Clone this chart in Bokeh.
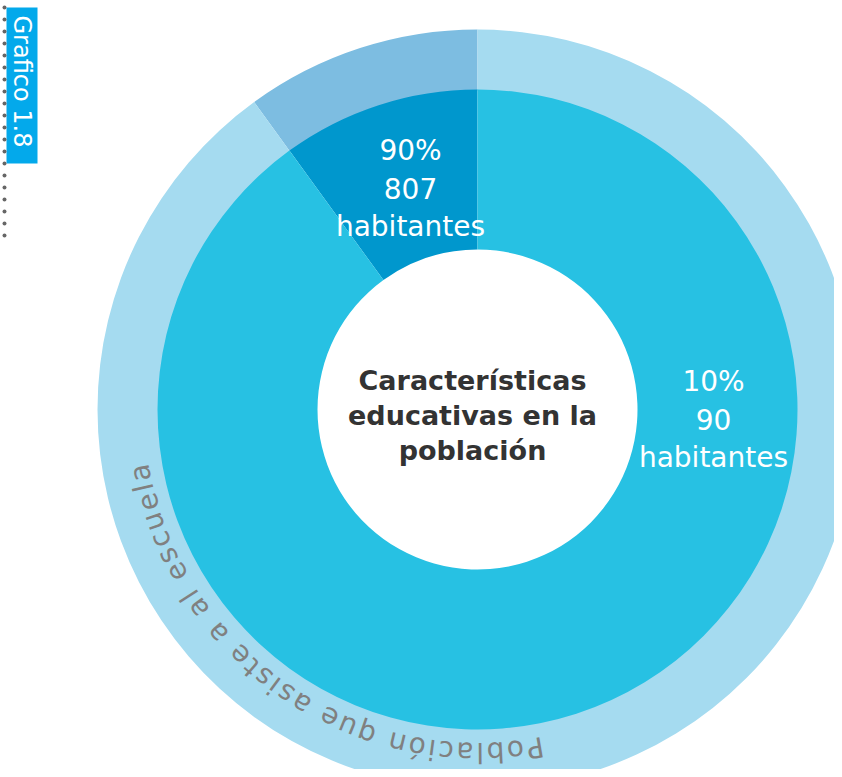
import math
from bokeh.plotting import figure
from bokeh.models import Range1d, ColumnDataSource
from bokeh.core.properties import value
from bokeh.embed import file_html
from bokeh.resources import INLINE

# ---------------- data ----------------
inner_share = [10, 90]            # angular share (%) of inner ring segments
outer_share = [10, 90]            # angular share (%) of outer ring segments
inner_colors = ["#0097cd", "#27c1e3"]
outer_colors = ["#7dbde1", "#a5dbf0"]
label_dark = ["90%", "807", "habitantes"]
label_light = ["10%", "90", "habitantes"]
center_title = ["Características", "educativas en la", "población"]
ring_caption = "Población que asiste a al escuela"
badge = "Grafico 1.8"

# ---------------- layout ----------------
W, H = 834, 769
CX, CY = 477, 409          # centre of the donut in figure pixels
R0, R1, R2 = 160, 320, 380

p = figure(width=W, height=H, output_backend="svg", toolbar_location=None,
           x_range=Range1d(-CX, W - CX), y_range=Range1d(-(H - CY), CY),
           x_axis_type=None, y_axis_type=None, min_border=0)
p.outline_line_color = None
p.grid.visible = False
p.background_fill_color = "white"


def wedge_angles(shares, start_deg=90.0):
    tot = float(sum(shares))
    starts, ends = [], []
    a = start_deg
    for s in shares:
        starts.append(math.radians(a))
        a += s / tot * 360.0
        ends.append(math.radians(a))
    return starts, ends


os_, oe_ = wedge_angles(outer_share)
outer_src = ColumnDataSource(dict(start=os_, end=oe_, color=outer_colors))
p.annular_wedge(x=0, y=0, inner_radius=R1 - 1, outer_radius=R2, start_angle="start",
                end_angle="end", fill_color="color", line_color=None, source=outer_src)

is_, ie_ = wedge_angles(inner_share)
inner_src = ColumnDataSource(dict(start=is_, end=ie_, color=inner_colors))
p.annular_wedge(x=0, y=0, inner_radius=R0, outer_radius=R1, start_angle="start",
                end_angle="end", fill_color="color", line_color=None, source=inner_src)


def stacked(lines, x, y0, step, size, color, style="normal"):
    p.text(x=[x] * len(lines), y=[y0 - i * step for i in range(len(lines))], text=lines,
           text_font=value("DejaVu Sans"), text_font_size=size, text_font_style=style,
           text_color=color, text_align="center", text_baseline="alphabetic")


# segment labels
stacked(label_dark, -67, 259, 38, "28px", "white")
stacked(label_light, 236, 28, 38, "28px", "white")

# centre title
stacked(center_title, -5, 29, 35, "27px", "#333333", "bold")

# curved caption along the outer ring
CW = {' ': 0.318, 'P': 0.603, 'o': 0.612, 'b': 0.635, 'l': 0.278, 'a': 0.613,
      'c': 0.550, 'i': 0.278, 'ó': 0.612, 'n': 0.634, 'q': 0.635, 'u': 0.634,
      'e': 0.615, 's': 0.521, 't': 0.392}
fs = 28
track = 2.7
r_text = 343
mid = math.radians(-124.85)
widths = [CW.get(ch, 0.6) * fs for ch in ring_caption]
total = sum(widths) + track * (len(ring_caption) - 1)
s = -total / 2
cx, cy, ca, ct = [], [], [], []
for ch, w in zip(ring_caption, widths):
    c = s + w / 2
    th = mid - c / r_text
    cx.append(r_text * math.cos(th))
    cy.append(r_text * math.sin(th))
    ca.append(th - math.pi / 2)
    ct.append(ch)
    s += w + track
p.text(x=cx, y=cy, text=ct, angle=ca, text_font=value("DejaVu Sans"),
       text_font_size=f"{fs}px", text_color="#808080", text_align="center",
       text_baseline="middle")

# badge "Grafico 1.8" with dotted rule
bx0, bx1 = -471, -440
p.quad(left=[bx0], right=[bx1], top=[402], bottom=[246], fill_color="#03a9eb",
       line_color=None)
p.text(x=[(bx0 + bx1) / 2], y=[394], text=[badge], angle=[-math.pi / 2],
       text_font=value("DejaVu Sans"), text_font_size="24px", text_color="white",
       text_align="left", text_baseline="middle")
dot_y = [402 - 12 * i for i in range(20)]
p.scatter(x=[-473] * len(dot_y), y=dot_y, size=4, marker="circle",
          fill_color="#666666", line_color=None)

open("out.html", "w").write(file_html(p, INLINE))
